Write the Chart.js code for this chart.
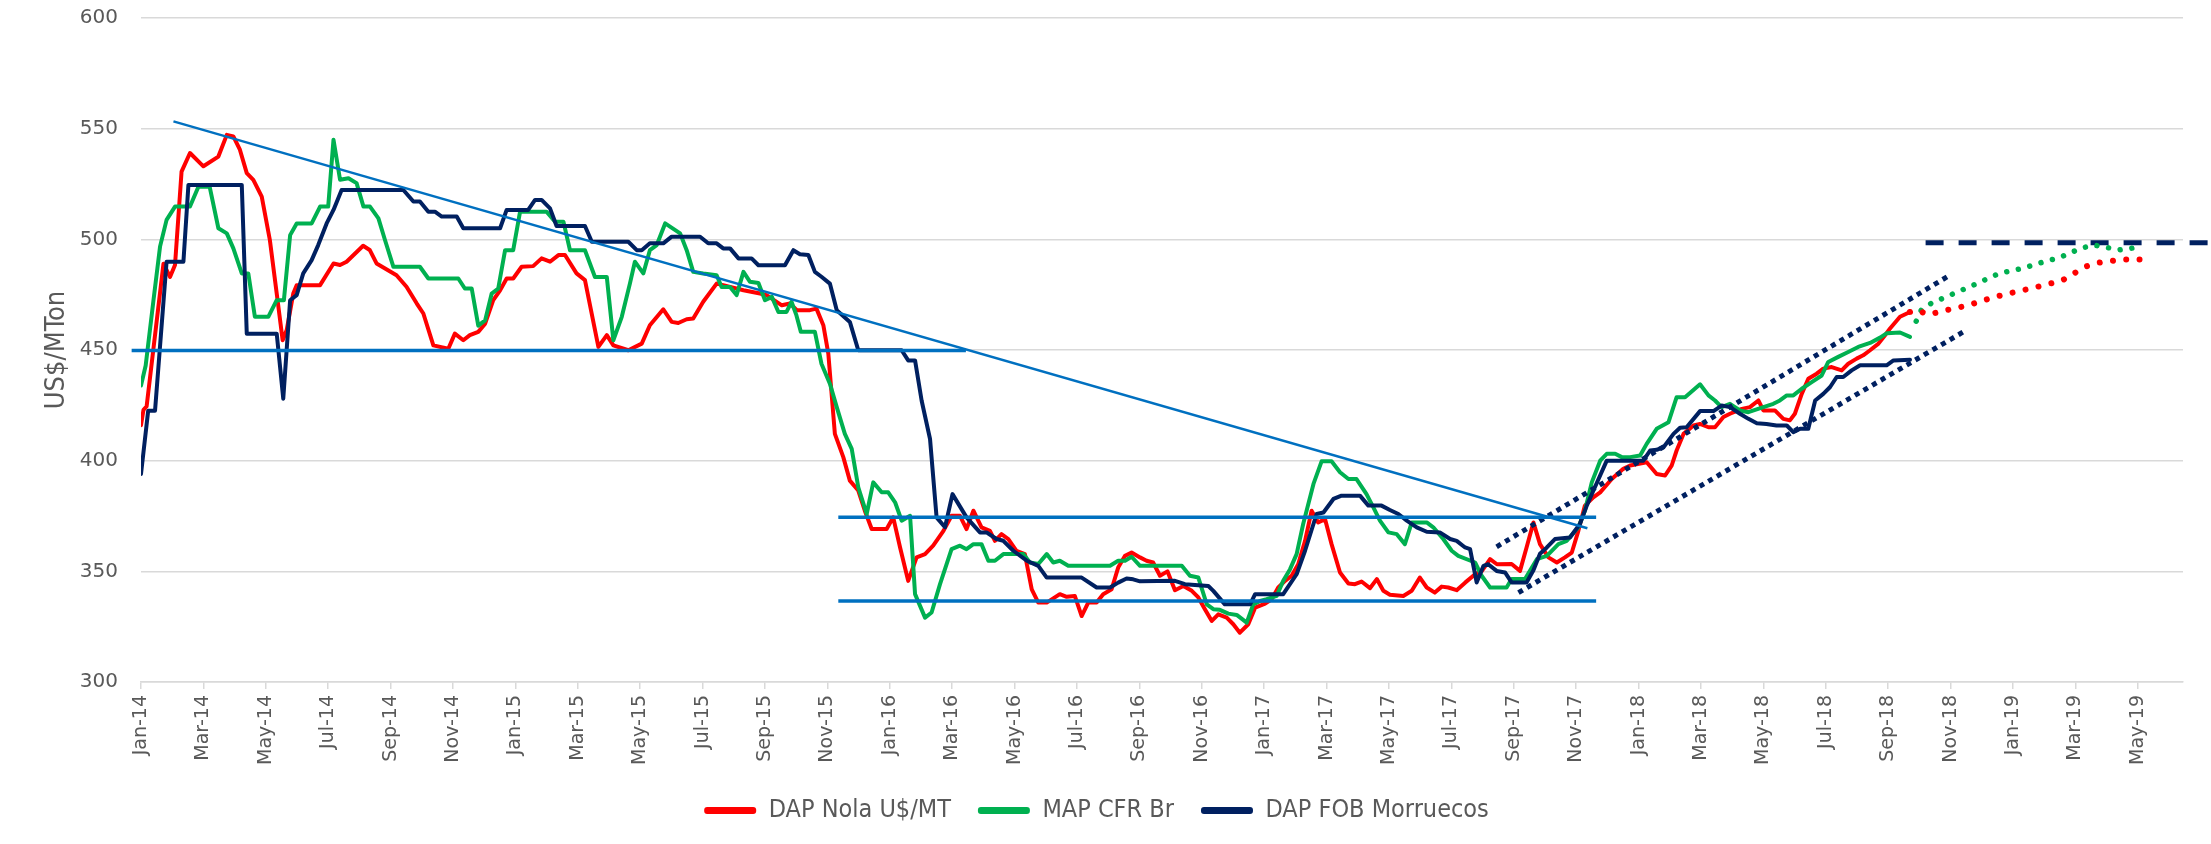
<!DOCTYPE html>
<html>
<head>
<meta charset="utf-8">
<script src="https://cdn.jsdelivr.net/npm/chart.js@4.4.1/dist/chart.umd.min.js"></script>
<style>
  html, body { margin: 0; padding: 0; background: #ffffff; }
  #wrap { width: 2211px; height: 844px; }
</style>
</head>
<body>
<div id="wrap"><canvas id="grafico" width="2211" height="844"></canvas></div>
<script>
// eje x en meses desde ene-14 (0 = Jan-14)
const etiquetasMes = ['Jan-14', 'Mar-14', 'May-14', 'Jul-14', 'Sep-14', 'Nov-14',
    'Jan-15', 'Mar-15', 'May-15', 'Jul-15', 'Sep-15', 'Nov-15',
    'Jan-16', 'Mar-16', 'May-16', 'Jul-16', 'Sep-16', 'Nov-16',
    'Jan-17', 'Mar-17', 'May-17', 'Jul-17', 'Sep-17', 'Nov-17',
    'Jan-18', 'Mar-18', 'May-18', 'Jul-18', 'Sep-18', 'Nov-18',
    'Jan-19', 'Mar-19', 'May-19'];

const nombresSeries = ['DAP Nola U$/MT', 'MAP CFR Br', 'DAP FOB Morruecos'];

// DAP Nola U$/MT
const mesesNola = [0, 0.08, 0.18, 0.72, 0.93, 1.09, 1.3, 1.57, 2.0, 2.48, 2.75, 2.96, 3.17, 3.39, 3.6, 3.87, 4.13, 4.35, 4.54, 4.67, 4.88, 4.99, 5.74, 6.17, 6.38, 6.59, 7.12, 7.33, 7.55, 8.19, 8.51, 8.84, 9.05, 9.37, 9.85, 10.06, 10.33, 10.54, 10.81, 11.03, 11.29, 11.51, 11.72, 11.93, 12.2, 12.57, 12.84, 13.11, 13.38, 13.59, 13.96, 14.23, 14.66, 14.93, 15.14, 15.62, 16.05, 16.31, 16.74, 17.01, 17.22, 17.49, 17.7, 18.02, 18.45, 18.66, 19.31, 19.84, 20.05, 20.54, 20.8, 21.02, 21.44, 21.65, 21.87, 22.03, 22.24, 22.51, 22.72, 22.99, 23.2, 23.42, 23.9, 24.11, 24.33, 24.59, 24.86, 25.13, 25.39, 25.72, 25.98, 26.25, 26.46, 26.68, 26.94, 27.21, 27.37, 27.58, 27.8, 28.06, 28.33, 28.55, 28.76, 29.03, 29.45, 29.67, 29.93, 30.15, 30.36, 30.63, 30.84, 31.11, 31.32, 31.54, 31.75, 32.02, 32.23, 32.44, 32.66, 32.9, 33.14, 33.41, 33.68, 33.89, 34.1, 34.32, 34.53, 34.8, 35.01, 35.22, 35.49, 35.71, 36.03, 36.24, 36.45, 36.67, 36.88, 37.09, 37.31, 37.52, 37.73, 37.95, 38.16, 38.43, 38.7, 38.91, 39.12, 39.39, 39.61, 39.82, 40.03, 40.46, 40.73, 40.99, 41.21, 41.47, 41.69, 41.9, 42.17, 42.44, 42.76, 42.98, 43.24, 43.46, 43.93, 44.2, 44.41, 44.63, 44.84, 45.11, 45.38, 45.64, 45.86, 46.07, 46.28, 46.55, 46.77, 47.14, 47.51, 47.73, 48.26, 48.58, 48.85, 49.06, 49.22, 49.44, 49.76, 49.97, 50.24, 50.45, 50.72, 50.93, 51.31, 51.57, 51.84, 52.0, 52.37, 52.64, 52.85, 53.01, 53.23, 53.44, 53.71, 53.92, 54.19, 54.51, 54.72, 54.99, 55.2, 55.42, 55.69, 55.9, 56.06, 56.38, 56.7];
const valoresNola = [416, 423, 424.5, 489, 483, 488.4, 530.6, 539, 533, 537.4, 547.2, 546.5, 540.5, 529.9, 526.9, 519.3, 499.7, 475.5, 454.4, 459, 475.5, 479.3, 479.3, 489.1, 488.4, 489.9, 497.1, 495.2, 489.1, 483.8, 478.6, 471, 466.5, 452.1, 450.6, 457.4, 454.4, 456.7, 458.2, 461.9, 472.5, 477, 482.3, 482.3, 487.6, 487.9, 491.4, 489.9, 492.9, 492.9, 484.6, 481.6, 451.4, 456.7, 452.1, 449.9, 452.9, 461.2, 468.4, 462.7, 462.2, 463.9, 464.2, 471.8, 480, 479.3, 477, 475.5, 474.8, 470.2, 471, 468, 468, 468.7, 461.2, 448.4, 412.1, 401.6, 391, 386.5, 377.4, 369.1, 369.1, 374.4, 360.8, 345.7, 356.3, 357.8, 361.6, 368.3, 375.1, 375.1, 369.1, 377.4, 369.9, 368.3, 363.8, 366.8, 364.6, 359.3, 357.8, 341.9, 335.9, 335.9, 339.7, 338.5, 338.9, 329.8, 335.9, 335.9, 339.7, 341.9, 351.7, 357, 358.5, 356.3, 354.8, 354, 348, 350, 341.5, 343.4, 341.2, 338.2, 332.9, 327.6, 330.6, 329.1, 326.1, 322.3, 326.1, 333.6, 335.4, 337.4, 342.7, 345.7, 348, 353.2, 363.8, 377.4, 372.1, 373.6, 362.3, 349.5, 344.5, 344.2, 345.4, 342.4, 346.5, 341.2, 339.4, 338.9, 341.2, 347.2, 342.7, 340.4, 343.1, 342.7, 341.5, 344.9, 348.7, 350.2, 355.5, 353.2, 353.3, 350.2, 360.8, 372.1, 362.3, 356.3, 354, 356.3, 358.5, 368.3, 379.7, 383.4, 385.7, 391.7, 396.3, 397.8, 399.3, 394, 393.3, 397.8, 404.6, 412.1, 415.9, 416.6, 415.1, 415.1, 419.7, 421.2, 423.4, 424.2, 427.2, 422.7, 422.7, 418.9, 418.2, 421.2, 430.2, 437, 439.3, 441.6, 442.3, 440.8, 443.8, 446.1, 447.6, 449.9, 452.9, 456.7, 459.7, 465, 467.2];

// MAP CFR Br
const mesesMap = [0, 0.15, 0.4, 0.61, 0.82, 1.09, 1.57, 1.84, 2.2, 2.48, 2.75, 2.96, 3.23, 3.44, 3.65, 4.08, 4.35, 4.58, 4.78, 4.99, 5.47, 5.74, 6.0, 6.17, 6.38, 6.65, 6.91, 7.13, 7.34, 7.61, 7.82, 8.09, 8.94, 9.21, 10.17, 10.38, 10.6, 10.81, 11.03, 11.24, 11.45, 11.67, 11.93, 12.15, 13.0, 13.27, 13.54, 13.75, 14.23, 14.55, 14.93, 15.14, 15.41, 15.67, 15.83, 16.1, 16.31, 16.53, 16.8, 17.28, 17.49, 17.7, 18.02, 18.45, 18.61, 18.88, 19.09, 19.31, 19.52, 19.79, 20.0, 20.22, 20.43, 20.69, 20.85, 21.0, 21.15, 21.6, 21.81, 22.08, 22.3, 22.56, 22.78, 22.99, 23.26, 23.47, 23.74, 23.95, 24.17, 24.38, 24.65, 24.81, 25.13, 25.34, 25.61, 25.98, 26.25, 26.46, 26.68, 26.94, 27.16, 27.37, 27.64, 28.28, 28.49, 28.76, 29.03, 29.24, 29.45, 29.72, 31.06, 31.32, 31.54, 31.75, 32.02, 33.36, 33.62, 33.89, 34.16, 34.37, 34.58, 34.85, 35.12, 35.44, 35.65, 35.87, 36.08, 36.4, 36.61, 36.83, 37.04, 37.25, 37.58, 37.84, 38.16, 38.43, 38.7, 38.96, 39.28, 39.5, 39.71, 39.98, 40.25, 40.51, 40.73, 41.21, 41.42, 41.74, 42.01, 42.22, 42.76, 42.97, 43.24, 43.77, 43.93, 44.36, 44.74, 45.06, 45.43, 45.7, 46.07, 46.28, 46.5, 46.77, 46.98, 47.25, 47.46, 47.73, 48.05, 48.26, 48.58, 48.96, 49.22, 49.49, 49.97, 50.24, 50.45, 50.66, 50.93, 51.25, 51.52, 52.0, 52.32, 52.53, 52.75, 52.96, 53.23, 53.55, 53.87, 54.08, 54.4, 54.72, 55.04, 55.42, 55.74, 55.96, 56.38, 56.7];
const valoresMap = [434, 443, 472.5, 496.7, 508.8, 514.8, 514.8, 523.8, 523.8, 505, 502.7, 495.9, 484.6, 484.6, 465, 465, 472.5, 472.5, 501.9, 507.2, 507.2, 514.8, 514.8, 545, 526.9, 527.6, 525.4, 514.8, 514.8, 509.5, 499.7, 487.6, 487.6, 482.3, 482.3, 477.8, 477.8, 461, 463.4, 475.5, 477.8, 495.1, 495.1, 512.5, 512.5, 508, 508, 495.1, 495.1, 483, 483, 454.4, 465, 480, 489.9, 484.6, 495.1, 497.4, 507.2, 502.7, 495.1, 485.3, 484.6, 483.8, 478.5, 478.5, 474.8, 485.3, 480.8, 480.3, 472.5, 474, 467.2, 467.2, 471.8, 466, 458.2, 458.2, 443.8, 434.8, 424.2, 412.1, 405.3, 388, 375.9, 390.2, 385.7, 385.7, 381.2, 372.9, 375.1, 339.7, 329.1, 331.4, 344.2, 360, 361.6, 360, 362.3, 362.3, 354.8, 354.8, 357.8, 357.8, 354, 353.3, 357.8, 354, 354.8, 352.5, 352.5, 354.8, 354.8, 356.6, 352.5, 352.5, 348, 347.2, 335.1, 332.9, 332.6, 330.9, 330.3, 326.8, 335.1, 336.6, 337.4, 338.9, 345.7, 351, 357.8, 371.4, 389.5, 399.7, 399.7, 394.8, 391.7, 391.7, 384.9, 378.9, 372.9, 367.6, 366.8, 362.3, 372.1, 372.1, 369.9, 364.6, 359.3, 357, 354, 348, 342.7, 342.7, 346.5, 346.5, 355.5, 357, 362.3, 363.8, 369.9, 377.4, 390.2, 400, 403.1, 403.1, 401.6, 401.6, 402.3, 407.6, 414.4, 417.4, 428.7, 428.7, 434.5, 429.5, 427.2, 424.2, 425.7, 422.7, 421.9, 424.2, 425.7, 427.2, 429.5, 429.5, 432.5, 435.5, 438.5, 444.6, 446.9, 449.1, 451.4, 453.2, 455.6, 457.6, 457.9, 455.9];

// DAP FOB Morruecos
const mesesFob = [0, 0.23, 0.45, 0.82, 1.36, 1.52, 3.23, 3.39, 4.35, 4.56, 4.78, 4.99, 5.2, 5.47, 5.68, 5.95, 6.17, 6.43, 8.41, 8.73, 8.94, 9.21, 9.42, 9.64, 10.12, 10.33, 11.51, 11.72, 12.41, 12.63, 12.84, 13.11, 13.32, 14.23, 14.45, 15.62, 15.89, 16.05, 16.31, 16.74, 17.01, 17.92, 18.18, 18.45, 18.66, 18.88, 19.15, 19.57, 19.79, 20.64, 20.91, 21.12, 21.39, 21.6, 21.81, 22.08, 22.3, 22.72, 22.99, 24.38, 24.59, 24.81, 25.02, 25.29, 25.5, 25.77, 26.01, 26.46, 26.89, 27.1, 27.42, 27.64, 27.96, 28.39, 28.76, 29.03, 30.15, 30.63, 31.06, 31.32, 31.59, 31.8, 32.02, 33.14, 33.46, 34.21, 34.37, 34.74, 35.55, 35.71, 36.61, 37.04, 37.31, 37.68, 37.9, 38.22, 38.48, 39.07, 39.34, 39.76, 40.03, 40.3, 40.57, 40.89, 41.21, 41.63, 41.96, 42.17, 42.44, 42.6, 42.81, 43.03, 43.18, 43.45, 43.72, 43.93, 44.41, 44.63, 44.84, 45.06, 45.32, 45.8, 46.12, 46.34, 46.6, 46.98, 48.15, 48.37, 48.58, 48.8, 49.12, 49.33, 49.54, 49.97, 50.4, 50.66, 50.93, 51.25, 51.52, 51.79, 52.1, 52.42, 52.75, 52.96, 53.18, 53.44, 53.66, 53.92, 54.14, 54.35, 54.56, 54.83, 55.1, 55.95, 56.17, 56.7];
const valoresFob = [394, 422.6, 422.6, 489.9, 489.9, 524.6, 524.6, 457.4, 457.4, 428, 472.5, 474.8, 484.6, 490.6, 497.4, 507.2, 513.3, 522.3, 522.3, 517.1, 517.1, 512.5, 512.5, 510.3, 510.3, 505, 505, 513.3, 513.3, 517.8, 517.8, 514, 506, 506, 498.9, 498.9, 495.1, 495.1, 498.2, 498.2, 501.2, 501.2, 498.2, 498.2, 495.9, 495.9, 491.4, 491.4, 488.3, 488.3, 495.1, 493.3, 492.9, 485.3, 483.1, 480, 468, 462.7, 449.9, 449.9, 445.3, 445.3, 427.2, 409.8, 374.4, 369.9, 384.9, 374.4, 367.6, 367.6, 364.6, 363.8, 359.3, 354.8, 352.5, 347.2, 347.2, 342.7, 342.7, 344.9, 346.8, 346.4, 345.5, 345.7, 344.2, 343.4, 341.2, 335.1, 335.1, 339.7, 339.7, 348.7, 359.3, 375.9, 376.6, 382.7, 384.2, 384.2, 379.7, 379.7, 377.7, 375.9, 372.9, 369.9, 367.9, 367.6, 364.6, 363.8, 360.8, 360, 345, 352.5, 353.2, 350.2, 349.5, 345, 345, 350.5, 358, 360.8, 364.6, 365.3, 371.4, 379.7, 388, 400, 400, 404.6, 404.9, 406.1, 412.1, 414.9, 415.1, 422.4, 422.4, 424.9, 424.2, 421.2, 418.9, 416.9, 416.6, 415.9, 415.9, 412.9, 414.4, 414.4, 427.2, 430.2, 433.3, 437.8, 437.8, 440.8, 443.1, 443.1, 445.3, 445.6];

// proyecciones punteadas
const mesesProyNola = [56.7, 56.92, 57.29, 57.72, 58.15, 58.57, 59.0, 59.43, 59.85, 60.28, 60.69, 61.12, 61.54, 61.92, 62.31, 62.71, 63.15, 63.59, 64.02, 64.45];
const valoresProyNola = [467.2, 468, 466, 467.5, 468.9, 470.2, 472.2, 474, 475.5, 476.9, 478.2, 479.8, 481.1, 484.3, 487.6, 489.4, 490.2, 490.9, 490.9, 490.9];
const mesesProyMap = [56.9, 57.06, 57.37, 57.74, 58.1, 58.48, 58.84, 59.19, 59.57, 59.95, 60.34, 60.72, 61.1, 61.49, 61.85, 62.23, 62.6, 62.99, 63.37, 63.77, 64.16];
const valoresProyMap = [463, 468, 471, 473.3, 475.5, 477.8, 480, 482.3, 484.7, 485.8, 487, 488.7, 490.3, 491.7, 494, 496.2, 497.4, 496.4, 495.2, 495.9, 497];

// lineas de soporte / resistencia y canal
const tendenciaBajista = [[1.04, 553.3], [46.36, 369.5]];
const soporte450 = [[-0.3, 449.8], [26.44, 449.8]];
const rangoAlto = [[22.35, 374.4], [46.64, 374.4]];
const rangoBajo = [[22.35, 336.6], [46.64, 336.6]];
const canalSuperior = [[43.45, 361.1], [57.93, 483.4]];
const canalInferior = [[44.15, 340.4], [58.41, 458.2]];
const objetivo500 = [[57.2, 498.5], [66.3, 498.5]];

const juntar = (xs, ys) => xs.map((x, i) => ({ x: x, y: ys[i] }));
const pares = lista => lista.map(p => ({ x: p[0], y: p[1] }));

const rojo = '#FF0000', verde = '#00B050', marino = '#002060', azul = '#0070C0';
const gris = '#595959';
const fuenteEstrecha = '"Liberation Sans Narrow", "DejaVu Sans Condensed", "Open Sans", sans-serif';

const serie = (label, datos, color, orden) => ({
    label: label,
    data: datos,
    borderColor: color,
    backgroundColor: color,
    borderWidth: 4,
    pointRadius: 0,
    borderJoinStyle: 'round',
    borderCapStyle: 'round',
    order: orden
});

const trazo = (datos, color, ancho, guion, tapa) => ({
    label: '',
    data: datos,
    borderColor: color,
    backgroundColor: color,
    borderWidth: ancho,
    borderDash: guion || [],
    borderCapStyle: tapa || 'butt',
    pointRadius: 0,
    clip: false,
    order: 0
});

new Chart(document.getElementById('grafico').getContext('2d'), {
    type: 'line',
    data: {
        datasets: [
            serie(nombresSeries[0], juntar(mesesNola, valoresNola), rojo, 3),
            serie(nombresSeries[1], juntar(mesesMap, valoresMap), verde, 2),
            serie(nombresSeries[2], juntar(mesesFob, valoresFob), marino, 1),
            trazo(juntar(mesesProyNola, valoresProyNola), rojo, 6, [0.01, 13.3], 'round'),
            trazo(juntar(mesesProyMap, valoresProyMap), verde, 5.5, [0.01, 11.8], 'round'),
            trazo(pares(tendenciaBajista), azul, 2.5),
            trazo(pares(soporte450), azul, 3.5),
            trazo(pares(rangoAlto), azul, 3.5),
            trazo(pares(rangoBajo), azul, 3.5),
            trazo(pares(canalSuperior), marino, 5, [5, 5]),
            trazo(pares(canalInferior), marino, 5, [5, 5]),
            trazo(pares(objetivo500), marino, 5, [18, 15])
        ]
    },
    options: {
        responsive: false,
        devicePixelRatio: 1,
        animation: false,
        layout: { padding: { left: 10, right: 28, top: 18, bottom: 11 } },
        plugins: {
            tooltip: { enabled: false },
            legend: {
                position: 'bottom',
                labels: {
                    filter: item => item.datasetIndex < 3,
                    sort: (a, b) => a.datasetIndex - b.datasetIndex,
                    generateLabels: function (chart) {
                        const base = Chart.defaults.plugins.legend.labels.generateLabels(chart);
                        return base.map(it => Object.assign(it, { lineWidth: 0, borderRadius: 3 }));
                    },
                    useBorderRadius: true,
                    borderRadius: 3,
                    boxWidth: 52,
                    boxHeight: 7,
                    padding: 27,
                    color: gris,
                    font: { family: fuenteEstrecha, size: 25 }
                }
            }
        },
        scales: {
            x: {
                type: 'linear',
                min: 0,
                max: 65.45,
                grid: { drawOnChartArea: false, drawTicks: true, tickLength: 7, color: '#D9D9D9', lineWidth: 1.5 },
                border: { color: '#D9D9D9', width: 1.5 },
                ticks: {
                    stepSize: 2,
                    includeBounds: false,
                    autoSkip: false,
                    minRotation: 90,
                    maxRotation: 90,
                    padding: 6,
                    color: gris,
                    font: { family: 'DejaVu Sans', size: 19 },
                    callback: value => etiquetasMes[Math.round(value / 2)] || ''
                }
            },
            y: {
                min: 300,
                max: 600,
                afterFit: escala => {
                    escala.width = 131;
                    escala.paddingTop = 0;
                    escala.paddingBottom = 0;
                },
                grid: { color: '#D9D9D9', lineWidth: 1.5, drawTicks: false },
                border: { display: false },
                ticks: {
                    stepSize: 50,
                    padding: 23,
                    color: gris,
                    font: { family: 'DejaVu Sans', size: 20 }
                },
                title: {
                    display: true,
                    text: 'US$/MTon',
                    color: gris,
                    font: { family: fuenteEstrecha, size: 27 },
                    padding: { top: 31, bottom: 4 }
                }
            }
        }
    }
});
</script>
</body>
</html>
